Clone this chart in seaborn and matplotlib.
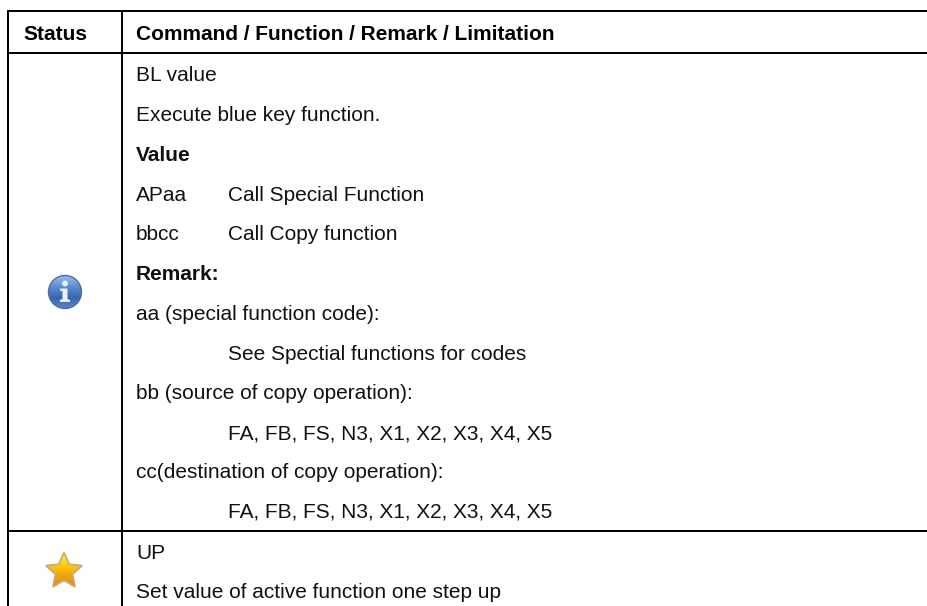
import matplotlib
matplotlib.use('Agg')
import matplotlib.pyplot as plt
import seaborn as sns
from matplotlib.patches import Circle, Polygon
import numpy as np

sns.set_theme(style='white')
plt.rcParams['font.family'] = ['Liberation Sans', 'DejaVu Sans']

# table content, y values are text baselines in pixels
headers = ['Status', 'Command / Function / Remark / Limitation']
header_x = [23, 136]
rows_text = ['BL value', 'Execute blue key function.', 'Value', 'APaa', 'bbcc', 'Remark:',
             'aa (special function code):', 'See Spectial functions for codes',
             'bb (source of copy operation):', 'FA, FB, FS, N3, X1, X2, X3, X4, X5',
             'cc(destination of copy operation):', 'FA, FB, FS, N3, X1, X2, X3, X4, X5',
             'UP', 'Set value of active function one step up']
rows_x = [136, 136, 136, 136, 136, 136, 136, 228, 136, 228, 136, 228, 136, 136]
rows_y = [81, 121, 161, 201, 240, 280, 320, 360, 399, 439, 478, 518, 559, 598]
rows_bold = [False, False, True, False, False, True, False, False, False, False, False, False, False, False]
extra_text = ['Call Special Function', 'Call Copy function']
extra_y = [201, 240]

fig = plt.figure(figsize=(9.27, 6.06), dpi=100)
ax = fig.add_axes([0, 0, 1, 1])
ax.set_xlim(0, 927)
ax.set_ylim(606, 0)
ax.axis('off')

# grid lines
lw = 1.44
ax.plot([8, 927], [11, 11], color='black', lw=lw)
ax.plot([8, 927], [52.5, 52.5], color='black', lw=lw)
ax.plot([8, 927], [531, 531], color='black', lw=lw)
ax.plot([8.5, 8.5], [11, 606], color='black', lw=lw)
ax.plot([122, 122], [11, 606], color='black', lw=lw)

fs = 15
for txt, x in zip(headers, header_x):
    ax.text(x, 40, txt, fontsize=fs, fontweight='bold', va='baseline', color='black')
for txt, x, y, b in zip(rows_text, rows_x, rows_y, rows_bold):
    ax.text(x, y, txt, fontsize=fs, fontweight='bold' if b else 'normal', va='baseline', color='#111111')
for txt, y in zip(extra_text, extra_y):
    ax.text(228, y, txt, fontsize=fs, va='baseline', color='#111111')

grad = np.linspace(0, 1, 64).reshape(-1, 1)

# info icon
blue = sns.blend_palette(['#9fc0ea', '#5f8fd0', '#3a66b0', '#5c86c8'], as_cmap=True)
im = ax.imshow(grad, cmap=blue, extent=(48, 82, 309, 275), aspect='auto', zorder=2)
c = Circle((65, 292), 16.5, fc='none', ec='#4a6ea8', lw=1, zorder=3)
ax.add_patch(c)
im.set_clip_path(c)
ax.add_patch(Circle((65, 283.5), 3, fc='#e8f0fa', ec='none', zorder=4))
ax.add_patch(Polygon([(60, 288.5), (67.5, 288.5), (67.5, 299), (70, 300), (70, 302), (60, 302), (60, 300),
                      (62.5, 299), (62.5, 291), (60, 290.5)], closed=True, fc='#e8f0fa', ec='none', zorder=4))

# star icon
ang = np.deg2rad(np.arange(-90, 270, 36))
rad = np.where(np.arange(10) % 2 == 0, 19, 9)
star = np.c_[64 + rad * np.cos(ang), 571.5 + rad * np.sin(ang)]
yellow = sns.blend_palette(['#fff04a', '#fbd010', '#f0a010', '#e88c18'], as_cmap=True)
im2 = ax.imshow(grad, cmap=yellow, extent=(44, 84, 589, 552), aspect='auto', zorder=2)
p = Polygon(star, closed=True, fc='none', ec='#c8a878', lw=1.2, zorder=3)
ax.add_patch(p)
im2.set_clip_path(p)

ax.set_xlim(0, 927)
ax.set_ylim(606, 0)
fig.savefig('out.png', dpi=100)
